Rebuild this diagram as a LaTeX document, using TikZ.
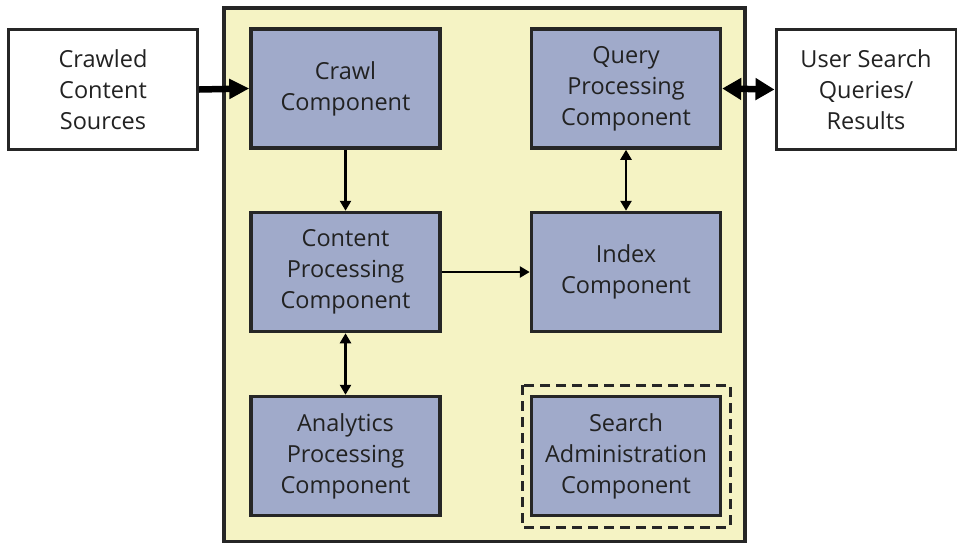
\documentclass[tikz,border=0pt]{standalone}
\usepackage{fontspec}
\setmainfont{Open Sans}
\usetikzlibrary{arrows.meta}
\definecolor{farmfill}{HTML}{F5F3C4}
\definecolor{compfill}{HTML}{A0AACA}
\definecolor{inktext}{HTML}{222222}
\begin{document}
\begin{tikzpicture}[x=1pt,y=-1pt,
  comp/.style={draw=black!85,line width=3.5pt,fill=compfill,minimum width=189pt,minimum height=119pt,
    align=center,text=inktext,font=\fontsize{23.5}{31}\selectfont,inner sep=0pt},
  ext/.style={comp,fill=white,line width=3pt},
  flow/.style={line width=2.8pt,-{Triangle[length=10pt,width=11pt]}},
  biflow/.style={line width=2.8pt,{Triangle[length=10pt,width=11pt]}-{Triangle[length=10pt,width=11pt]}},
  bigflow/.style={line width=6.5pt,-{Triangle[length=20pt,width=19pt]}},
  bigbiflow/.style={line width=6.5pt,{Triangle[length=19pt,width=21pt]}-{Triangle[length=19pt,width=21pt]}}]
\useasboundingbox (0,0) rectangle (957,542);
% search farm container
\draw[line width=3.5pt,draw=black!85,fill=farmfill] (224,8) rectangle (745,542);
% components
\node[comp] (crawl) at (345.5,88.5) {Crawl\\Component};
\node[comp] (query) at (626,88.5) {Query\\Processing\\Component};
\node[comp] (content) at (345.5,272) {Content\\Processing\\Component};
\node[comp] (index) at (626,272) {Index\\Component};
\node[comp] (analytics) at (345.5,456) {Analytics\\Processing\\Component};
\node[comp] (admin) at (626,456) {Search\\Administration\\Component};
\draw[line width=3pt,draw=black!85,dash pattern=on 10pt off 6pt] (522,385) rectangle (730,527);
% external endpoints
\node[ext,minimum width=189pt,minimum height=120pt] (sources) at (103,89.5) {Crawled\\Content\\Sources};
\node[ext,minimum width=180pt,minimum height=120pt] (users) at (866,89.5) {User Search\\Queries/\\Results};
% connectors
\draw[bigflow] (sources.east) -- (crawl.west);
\draw[bigbiflow] (query.east) -- (users.west);
\draw[flow] (crawl.south) -- (content.north);
\draw[flow] (content.east) -- (index.west);
\draw[biflow] (query.south) -- (index.north);
\draw[biflow] (content.south) -- (analytics.north);
\end{tikzpicture}
\end{document}
